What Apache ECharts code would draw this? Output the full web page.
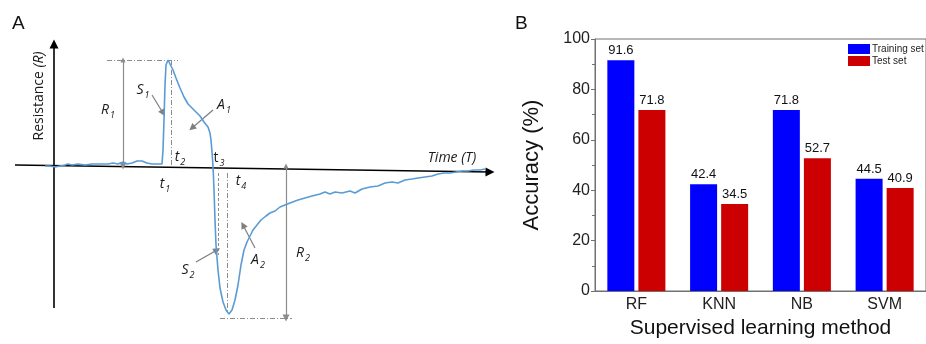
<!DOCTYPE html>
<html>
<head>
<meta charset="utf-8">
<script src="https://cdn.jsdelivr.net/npm/echarts@6/dist/echarts.min.js"></script>
<style>
  html, body { margin: 0; padding: 0; background: #fff; }
  #chart { width: 926px; height: 344px; }
</style>
</head>
<body>
<div id="chart"></div>
<script>
// ---- panel A: schematic response curve (arbitrary units, origin at the axes crossing)
const curveTime = [-9, -7, -4, 1, 6, 11, 14, 18, 24, 31, 38, 46, 54, 59, 64, 69, 73, 78, 83, 88, 93, 98, 103, 108,
  109, 110, 111, 112, 114, 116, 119, 122, 126, 130, 134, 138, 142, 146, 150, 154, 156, 157, 158,
  159, 160, 161, 162, 164, 166, 169, 172, 175, 178, 181, 184, 187, 190, 193, 196, 199, 203, 207, 212, 216,
  221, 226, 231, 236, 244, 251, 258, 266, 271, 276, 281, 288, 296, 301, 308, 316, 324, 331, 338, 344,
  351, 358, 364, 371, 378, 384, 390, 396, 402, 408, 414, 420, 426, 431];
const curveResist = [0, -1, 0, -1, 0, 1, 2, 1, 2, 1, 2, 2, 2, 3, 2, 4, 2, 3, 5, 5, 3, 2, 2, 2,
  16, 46, 81, 101, 106, 104, 96, 88, 78, 69, 62, 58, 54, 50, 44, 39, 33, 26, 14,
  0, -24, -54, -79, -104, -122, -136, -144, -148, -144, -134, -119, -99, -84, -76, -70, -64, -59, -54, -50, -47,
  -45, -41, -39, -37, -34, -32, -30, -28, -26, -28, -26, -27, -25, -27, -23, -21, -20, -17, -16, -17,
  -14, -13, -12, -11, -10, -8, -7, -7, -6, -5, -5, -4, -4, -3];

const axisArrows = [[[-39, 1], [436, -6]], [[0, -142], [0, 122]]];
const spanArrows = [[[69, 106], [69, 0]], [[232, 0], [232, -152]]];
const pointerArrows = [[[98, 71], [109, 53]], [[159, 56], [138, 38]], [[142, -96], [163, -84]], [[201, -82], [189, -59]]];
const dashDotGuides = [[[53, 106], [124, 106]], [[117, 106], [117, 0]], [[173, -7], [173, -147]], [[166, -152], [238, -152]]];
const dashGuides = [[[164, -7], [164, -89]]];

const annoNames = ['R', 'S', 'A', 't', 't', 't', 't', 'S', 'A', 'R'];
const annoSubs = ['1', '1', '1', '2', '3', '1', '4', '2', '2', '2'];
const annoItalic = [true, true, true, true, false, true, true, true, true, true];
const annoTime = [54, 89, 170, 126, 165, 111, 187, 134, 204, 249];
const annoResist = [56, 76, 61, 9, 8, -18, -15, -104, -94, -87];

// ---- panel B: classifier accuracy
const methods = ['RF', 'KNN', 'NB', 'SVM'];
const trainAcc = [91.6, 42.4, 71.8, 44.5];
const testAcc = [71.8, 34.5, 52.7, 40.9];
const accTicks = [0, 20, 40, 60, 80, 100];

const fontA = '"Open Sans", "Noto Sans", sans-serif';
const fontB = '"Liberation Sans", Arial, sans-serif';
const gray = '#8c8c8c';
const ink = '#1a1a1a';

const segs = list => list.map(c => ({ coords: c }));

const chart = echarts.init(document.getElementById('chart'), null, { renderer: 'canvas' });

chart.setOption({
  animation: false,
  backgroundColor: '#fff',
  title: [
    { text: 'A', left: 7, top: 9, textStyle: { fontFamily: fontB, fontSize: 19, fontWeight: 'normal', color: '#111' } },
    { text: 'B', left: 510, top: 9, textStyle: { fontFamily: fontB, fontSize: 19, fontWeight: 'normal', color: '#111' } }
  ],
  legend: {
    data: ['Training set', 'Test set'],
    orient: 'vertical',
    left: 848,
    top: 44,
    icon: 'rect',
    itemWidth: 22,
    itemHeight: 10,
    itemGap: 2,
    padding: 0,
    textStyle: { fontFamily: fontB, fontSize: 10, color: '#222', padding: [0, 0, 0, -3] }
  },
  grid: [
    { left: 15, top: 44, width: 475, height: 264 },
    { left: 595, top: 39, width: 334, height: 255, show: true, borderColor: '#707070', borderWidth: 1 }
  ],
  xAxis: [
    { gridIndex: 0, type: 'value', min: -39, max: 436, show: false },
    {
      gridIndex: 1, type: 'category', data: methods,
      axisLine: { lineStyle: { color: '#707070', width: 1 } },
      axisTick: { show: false },
      axisLabel: { fontFamily: fontB, fontSize: 16, color: '#222', margin: 6 },
      name: 'Supervised learning method', nameLocation: 'middle', nameGap: 27,
      nameTextStyle: { fontFamily: fontB, fontSize: 21, color: '#111' }
    }
  ],
  yAxis: [
    { gridIndex: 0, type: 'value', min: -142, max: 122, show: false },
    {
      gridIndex: 1, type: 'value', min: accTicks[0], max: accTicks[accTicks.length - 1], interval: 20,
      axisLine: { show: true, lineStyle: { color: '#707070', width: 1 } },
      axisTick: { show: true, length: 4, lineStyle: { color: '#707070' } },
      minorTick: { show: true, splitNumber: 2, length: 3, lineStyle: { color: '#707070' } },
      splitLine: { show: false },
      axisLabel: { fontFamily: fontB, fontSize: 16, color: '#222', margin: 5 },
      name: 'Accuracy (%)', nameLocation: 'middle', nameGap: 52, nameRotate: 90,
      nameTextStyle: { fontFamily: fontB, fontSize: 22, color: '#111' }
    }
  ],
  series: [
    {
      type: 'line', xAxisIndex: 0, yAxisIndex: 0, clip: false,
      data: curveTime.map((t, i) => [t, curveResist[i]]),
      symbol: 'none',
      lineStyle: { color: '#5b9bd5', width: 1.6 }
    },
    {
      type: 'lines', coordinateSystem: 'cartesian2d', xAxisIndex: 0, yAxisIndex: 0, clip: false,
      data: segs(axisArrows), symbol: ['none', 'triangle'], symbolSize: [7, 9],
      lineStyle: { color: '#000', width: 1.6, opacity: 1 }
    },
    {
      type: 'lines', coordinateSystem: 'cartesian2d', xAxisIndex: 0, yAxisIndex: 0, clip: false,
      data: segs(spanArrows), symbol: ['triangle', 'triangle'], symbolSize: [5, 7],
      lineStyle: { color: gray, width: 1.2, opacity: 1 }
    },
    {
      type: 'lines', coordinateSystem: 'cartesian2d', xAxisIndex: 0, yAxisIndex: 0, clip: false,
      data: segs(pointerArrows), symbol: ['none', 'triangle'], symbolSize: [5, 7],
      lineStyle: { color: '#7f7f7f', width: 1.2, opacity: 1 }
    },
    {
      type: 'lines', coordinateSystem: 'cartesian2d', xAxisIndex: 0, yAxisIndex: 0, clip: false,
      data: segs(dashDotGuides), symbol: 'none',
      lineStyle: { color: gray, width: 1, type: [5, 2, 1, 2], opacity: 1 }
    },
    {
      type: 'lines', coordinateSystem: 'cartesian2d', xAxisIndex: 0, yAxisIndex: 0, clip: false,
      data: segs(dashGuides), symbol: 'none',
      lineStyle: { color: gray, width: 1, type: [3, 2], opacity: 1 }
    },
    {
      type: 'scatter', xAxisIndex: 0, yAxisIndex: 0, clip: false, symbolSize: 1, silent: true,
      itemStyle: { opacity: 0 },
      data: annoTime.map((t, i) => ({ value: [t, annoResist[i]], name: String(i) })),
      label: {
        show: true, position: 'inside', color: ink, opacity: 1,
        formatter: p => {
          const i = Number(p.name);
          return (annoItalic[i] ? '{m|' : '{u|') + annoNames[i] + '}{s|' + annoSubs[i] + '}';
        },
        rich: {
          m: { fontFamily: fontA, fontStyle: 'italic', fontSize: 14, color: ink, lineHeight: 18 },
          u: { fontFamily: fontA, fontSize: 14, color: ink, lineHeight: 18 },
          s: { fontFamily: fontA, fontStyle: 'italic', fontSize: 9, color: ink, verticalAlign: 'bottom', lineHeight: 11, padding: [0, 0, -1, 1] }
        }
      }
    },
    {
      type: 'scatter', xAxisIndex: 0, yAxisIndex: 0, clip: false, symbolSize: 1, silent: true,
      itemStyle: { opacity: 0 },
      data: [[398, 8], [-15, 70]],
      label: {
        show: true, position: 'inside', color: ink, opacity: 1,
        formatter: p => p.dataIndex === 0 ? '{i|Time (T)}' : '{n|Resistance }{i|(R)}',
        rich: {
          i: { fontFamily: fontA, fontStyle: 'italic', fontSize: 14, color: ink },
          n: { fontFamily: fontA, fontSize: 14, color: ink }
        }
      },
      labelLayout: p => p.dataIndex === 1 ? { rotate: 90 } : {}
    },
    {
      name: 'Training set', type: 'bar', xAxisIndex: 1, yAxisIndex: 1,
      data: trainAcc, barWidth: 27, barGap: '15%',
      itemStyle: { color: '#0000ff' },
      label: { show: true, position: 'top', distance: 3, fontFamily: fontB, fontSize: 13, color: '#111', formatter: p => p.value.toFixed(1) }
    },
    {
      name: 'Test set', type: 'bar', xAxisIndex: 1, yAxisIndex: 1,
      data: testAcc, barWidth: 27,
      itemStyle: { color: '#cc0000' },
      label: { show: true, position: 'top', distance: 3, fontFamily: fontB, fontSize: 13, color: '#111', formatter: p => p.value.toFixed(1) }
    }
  ]
});
</script>
</body>
</html>
